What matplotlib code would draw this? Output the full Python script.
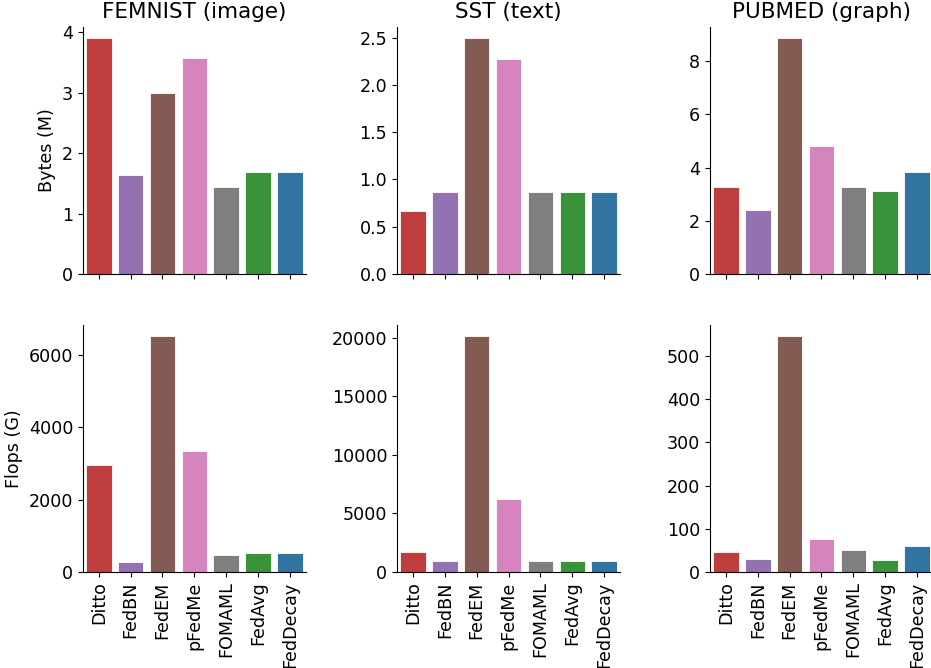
import numpy as np
import matplotlib
matplotlib.use("Agg")
import matplotlib.pyplot as plt
from matplotlib.ticker import MultipleLocator

methods = ["Ditto", "FedBN", "FedEM", "pFedMe", "FOMAML", "FedAvg", "FedDecay"]
colors = ["#c03d3e", "#9372b2", "#845b53", "#d684bd", "#7f7f7f", "#3a923a", "#3274a1"]

datasets = ["FEMNIST (image)", "SST (text)", "PUBMED (graph)"]

# communication cost (MB)
bytes_femnist = [3.90, 1.635, 3.00, 3.57, 1.445, 1.685, 1.685]
bytes_sst = [0.66, 0.87, 2.49, 2.27, 0.87, 0.87, 0.87]
bytes_pubmed = [3.27, 2.39, 8.86, 4.82, 3.28, 3.13, 3.84]

# computation cost (GFlops)
flops_femnist = [2960, 277, 6518, 3347, 453, 527, 527]
flops_sst = [1683, 913, 20100, 6220, 913, 913, 913]
flops_pubmed = [45.7, 28.7, 545.7, 76.7, 51, 27, 59.7]

rows = [[bytes_femnist, bytes_sst, bytes_pubmed],
        [flops_femnist, flops_sst, flops_pubmed]]
ylabels = ["Bytes (M)", "Flops (G)"]

fig = plt.figure(figsize=(9.31, 6.68), dpi=100)

lefts = [0.089, 0.4265, 0.7626]
bottoms = [0.590, 0.144]
w, h = 0.2395, 0.37
fs = 12.6

x = np.arange(len(methods))
for r in range(2):
    for c in range(3):
        ax = fig.add_axes([lefts[c], bottoms[r], w, h])
        ax.bar(x, rows[r][c], width=0.8, color=colors, edgecolor="white", linewidth=0.6)
        ax.set_xlim(-0.5, len(methods) - 0.5)
        ax.spines["top"].set_visible(False)
        ax.spines["right"].set_visible(False)
        ax.tick_params(axis="y", labelsize=fs)
        ax.set_xticks(x)
        if r == 0:
            ax.set_title(datasets[c], fontsize=15.5)
            ax.set_xticklabels([])
        else:
            ax.set_xticklabels(methods, rotation=90, fontsize=fs)
        if c == 0:
            ax.set_ylabel(ylabels[r], fontsize=fs)
        if r == 1 and c == 0:
            ax.yaxis.set_major_locator(MultipleLocator(2000))

fig.savefig("out.png", dpi=100)
